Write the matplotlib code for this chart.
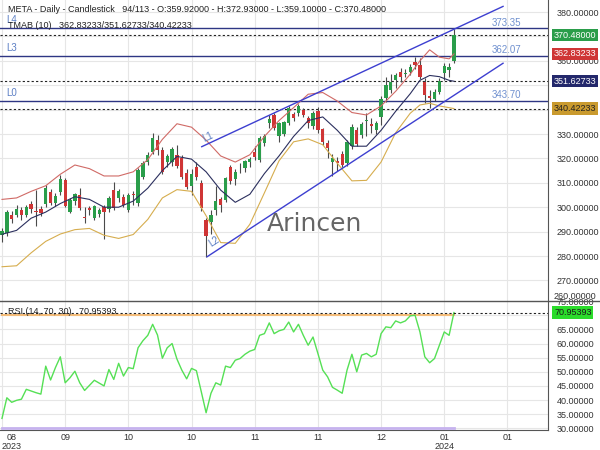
import matplotlib
matplotlib.use("Agg")
import matplotlib.pyplot as plt
from matplotlib.lines import Line2D
import numpy as np
import pandas as pd

plt.rcParams['font.family'] = ['Liberation Sans', 'DejaVu Sans']

# trading days on the chart (94 bars, the axis holds 113 slots)
holidays = ["2023-09-04", "2023-11-23", "2023-12-25", "2024-01-01"]
dates = pd.bdate_range("2023-08-28", "2024-01-10")
dates = dates[~dates.isin(pd.to_datetime(holidays))]

opens = [288.6, 289.5, 297.0, 296.8, 298.8, 296.8, 301.3, 298.4, 299.3, 301.3,
         306.1, 301.6, 306.1, 311.2, 298.2, 302.7, 305.0, 295.8, 299.5, 295.7,
         297.2, 300.2, 299.1, 307.0, 303.6, 304.0, 298.9, 305.5, 301.6, 312.5,
         318.6, 322.8, 327.5, 323.4, 318.6, 318.6, 321.4, 320.0, 314.1, 308.5,
         316.6, 309.8, 294.8, 294.0, 298.9, 303.2, 303.0, 316.5, 311.5, 315.5,
         316.0, 318.5, 322.5, 319.3, 326.2, 334.4, 337.8, 329.0, 330.0, 334.4,
         338.2, 338.7, 339.8, 336.4, 333.3, 339.5, 331.9, 326.2, 318.5, 318.8,
         321.8, 318.0, 325.0, 331.8, 329.6, 335.2, 334.0, 331.6, 337.1, 344.6,
         348.0, 352.1, 355.5, 354.6, 355.5, 359.6, 358.3, 351.4, 345.6, 344.3,
         347.3, 354.9, 356.4, 359.92]
highs = [291.5, 299.0, 298.4, 301.0, 300.0, 300.8, 302.5, 307.0, 300.5, 309.0,
         307.5, 306.0, 313.0, 311.8, 303.8, 306.0, 307.7, 300.2, 300.5, 301.0,
         299.8, 301.0, 304.5, 310.5, 307.5, 305.5, 306.0, 306.5, 316.0, 318.8,
         322.5, 330.3, 329.5, 324.5, 322.0, 324.5, 325.5, 321.5, 315.5, 315.5,
         318.5, 311.0, 295.5, 299.0, 308.7, 304.0, 312.5, 317.5, 315.5, 318.0,
         319.5, 320.5, 325.0, 329.0, 330.0, 337.7, 338.5, 334.8, 335.5, 341.5,
         339.0, 342.5, 340.5, 337.5, 339.5, 341.0, 332.5, 327.5, 322.0, 320.5,
         323.0, 327.5, 334.0, 333.0, 335.0, 338.5, 336.5, 335.5, 345.5, 353.5,
         354.5, 355.0, 357.0, 356.5, 358.5, 361.5, 361.0, 353.0, 348.0, 348.5,
         353.0, 359.0, 359.0, 372.93]
lows = [285.6, 288.0, 293.5, 295.8, 294.7, 296.0, 297.5, 292.3, 296.5, 300.0,
        301.0, 300.5, 305.0, 300.0, 297.5, 301.0, 299.0, 293.4, 297.0, 294.8,
        296.0, 286.8, 298.0, 299.0, 302.0, 300.0, 298.0, 301.0, 300.5, 311.5,
        317.5, 322.0, 321.5, 313.5, 316.5, 317.0, 316.0, 311.5, 307.5, 305.0,
        311.0, 298.5, 279.7, 289.0, 297.0, 298.0, 302.0, 309.5, 309.0, 314.0,
        314.5, 316.5, 319.5, 318.5, 325.0, 332.5, 331.5, 326.8, 329.0, 333.5,
        335.5, 337.5, 337.0, 332.5, 332.0, 330.5, 325.5, 320.0, 312.9, 315.0,
        316.5, 317.0, 324.0, 325.0, 328.5, 329.0, 330.5, 330.0, 333.7, 343.0,
        347.0, 349.0, 351.5, 353.5, 354.0, 356.5, 352.5, 342.6, 340.5, 343.5,
        346.5, 352.0, 353.5, 359.10]
closes = [290.3, 298.0, 295.1, 299.4, 296.8, 299.9, 299.1, 298.0, 297.5, 307.7,
          301.9, 304.6, 311.6, 300.5, 303.0, 305.3, 299.5, 295.6, 298.8, 300.5,
          298.8, 297.9, 303.9, 299.5, 306.7, 300.9, 305.0, 304.8, 315.2, 318.2,
          321.6, 328.2, 323.4, 314.6, 321.1, 323.7, 316.9, 312.5, 308.4, 313.8,
          312.2, 299.5, 288.3, 296.8, 302.5, 300.9, 311.8, 310.9, 314.6, 315.8,
          318.8, 319.8, 320.5, 328.3, 329.0, 336.3, 332.3, 334.4, 335.0, 340.5,
          336.4, 341.5, 337.8, 334.4, 338.5, 331.6, 326.9, 324.1, 320.0, 318.3,
          317.5, 326.6, 332.7, 326.0, 334.0, 335.7, 333.3, 334.5, 344.4, 350.2,
          351.2, 354.2, 353.5, 355.0, 357.6, 358.3, 353.5, 346.0, 344.9, 347.3,
          351.7, 357.9, 357.4, 370.48]

# TMAB (10) bands, read at these bar numbers
band_bars = [0, 3, 6, 9, 12, 15, 18, 21, 24, 27, 30, 33, 36, 39, 42, 45, 48, 51,
             54, 57, 60, 63, 66, 69, 72, 75, 78, 81, 84, 86, 88, 90, 92, 93]
band_upper = [303.2, 303.8, 306.5, 308.8, 313.5, 317.3, 315.8, 312.8, 312.8, 314.5,
              319.5, 327.8, 334.2, 332.8, 327.5, 321.0, 318.5, 321.5, 329.0, 335.5,
              340.8, 346.3, 347.0, 343.5, 338.8, 337.8, 341.5, 347.5, 354.5, 360.0,
              364.5, 361.5, 360.8, 362.83233]
band_mid = [288.9, 290.5, 295.5, 298.0, 301.5, 304.3, 303.2, 300.0, 300.0, 302.5,
            307.8, 315.0, 320.8, 319.7, 314.5, 307.0, 302.0, 305.3, 313.8, 321.0,
            329.0, 335.5, 337.0, 331.5, 325.0, 325.0, 331.5, 339.3, 346.5, 352.0,
            354.0, 353.5, 352.0, 351.62733]
band_lower = [275.6, 276.0, 281.3, 286.0, 289.0, 290.8, 291.3, 288.5, 287.2, 288.8,
              295.0, 303.8, 307.2, 306.5, 296.5, 285.5, 285.2, 293.0, 305.9, 319.0,
              326.8, 328.0, 325.6, 318.0, 310.8, 311.0, 318.5, 330.5, 338.5, 341.9,
              342.6, 341.5, 340.8, 340.42233]

rsi = [33.5, 40.8, 39.2, 39.9, 40.3, 43.8, 43.2, 42.6, 42.1, 52.0,
       47.1, 51.5, 55.3, 46.1, 47.9, 50.2, 46.1, 43.4, 45.2, 47.0,
       46.0, 45.0, 50.8, 47.3, 53.0, 48.5, 51.5, 51.1, 58.5, 61.0,
       62.9, 66.8, 63.0, 54.8, 58.5, 60.0, 54.5, 50.6, 47.5, 51.2,
       50.4, 43.0, 35.5, 42.4, 46.1, 45.3, 52.0, 51.5, 54.1, 54.7,
       56.2, 57.3, 57.9, 62.9, 63.5, 67.3, 63.5, 64.5, 65.0, 67.6,
       64.1, 66.8, 62.9, 59.4, 62.3, 56.5, 50.6, 48.2, 44.5, 43.5,
       42.4, 50.6, 56.2, 50.0, 55.9, 56.5, 55.3, 56.2, 63.5, 65.9,
       65.6, 68.0, 67.3, 68.0, 69.8, 70.0, 64.1, 55.3, 53.2, 54.7,
       59.4, 64.1, 62.9, 70.95393]

# horizontal levels and trend channel
level_names = ["L4", "L3", "L0"]
level_values = [373.35, 362.07, 343.70]
channel_top = ([41.1, 103.1], [324.8, 382.3])
channel_bottom = ([42.2, 103.1], [279.7, 359.0])

tick_bars = [0, 13, 26, 39, 52, 65, 78, 91, 104]
tick_labels = ["08\n2023", "09", "10", "10", "11", "11", "12", "01\n2024", "01"]
price_ticks = [270, 280, 290, 300, 310, 320, 330, 340, 350, 360, 370, 380]
hidden_price_labels = [340, 350, 370]   # covered by the value boxes
rsi_ticks = [30, 35, 40, 45, 50, 55, 60, 65, 70, 75]
hidden_rsi_labels = [70]

GREEN = "#2a9d4a"
RED = "#cf3535"
GRID = "#e6e6e6"
AXC = "#555555"

fig = plt.figure(figsize=(6, 4.5), dpi=100)
ax = fig.add_axes([0, 1 - 301 / 450, 548 / 600, 301 / 450])
ax2 = fig.add_axes([0, 20 / 450, 548 / 600, 129 / 450], sharex=ax)

x = np.arange(len(closes))
o = np.array(opens)
c = np.array(closes)
up = c >= o

# candles
ax.vlines(x, lows, highs, color="#4a4a4a", lw=0.8, zorder=3)
body_lo = np.minimum(o, c)
body_h = np.maximum(np.abs(c - o), 0.35)
ax.bar(x, body_h, bottom=body_lo, width=0.68,
       color=[GREEN if u else RED for u in up], edgecolor="none", zorder=4)

# bands
ax.plot(band_bars, band_upper, color="#d06a66", lw=0.8, zorder=5)
ax.plot(band_bars, band_mid, color="#2b2f5e", lw=0.8, zorder=5)
ax.plot(band_bars, band_lower, color="#d6ad4e", lw=0.8, zorder=5)

ax.set_xlim(-0.41, 112.35)
ax.set_ylim(261.56, 384.92)

# levels
for name, val in zip(level_names, level_values):
    ax.axhline(val, color="#2e3684", lw=1.0, zorder=2)
    ax.text(0.011, val + 3.3, name, transform=ax.get_yaxis_transform(),
            color="#5b7ec4", fontsize=7, va="center", ha="left")
    ax.text(100.8, val + 2.2, f"{val:.2f}", color="#6f90cf", fontsize=7,
            va="center", ha="left")

# dashed marker lines for last values
for val in [closes[-1], band_mid[-1], band_lower[-1]]:
    ax.axhline(val, color="#222222", lw=0.8, ls=(0, (2, 2)), zorder=2)

# channel lines
ax.plot(*channel_top, color="#3d3fd0", lw=1.0, zorder=5)
ax.plot(*channel_bottom, color="#3d3fd0", lw=1.0, zorder=5)


def line_angle(xs, ys):
    p = ax.transData.transform(list(zip(xs, ys)))
    return np.degrees(np.arctan2(p[1][1] - p[0][1], p[1][0] - p[0][0]))


ax.text(channel_top[0][0] + 0.3, channel_top[1][0] + 3.2, "L1",
        rotation=line_angle(*channel_top), color="#5b7ec4", fontsize=7,
        ha="left", va="center", rotation_mode="anchor", zorder=6)
ax.text(channel_bottom[0][0] + 0.6, channel_bottom[1][0] + 5.0, "L2",
        rotation=line_angle(*channel_bottom), color="#5b7ec4", fontsize=7,
        ha="left", va="center", rotation_mode="anchor", zorder=6)

# watermark
ax.text(0.573, 0.255, "Arincen", transform=ax.transAxes, fontsize=18,
        color="#666666", ha="center", va="center", zorder=7,
        family=["DejaVu Sans"])

# main axis styling
ax.set_yticks(price_ticks)
ax.set_yticklabels(["" if v in hidden_price_labels else f"{v:.5f}" for v in price_ticks])
ax.yaxis.tick_right()
ax.tick_params(axis="y", length=0, pad=6, labelsize=6.5, colors="#333333")
ax.tick_params(axis="x", length=0, labelbottom=False)
ax.set_xticks(tick_bars)
ax.grid(True, color=GRID, lw=0.8, zorder=0)
ax.set_axisbelow(True)
for s in ["top", "left", "bottom"]:
    ax.spines[s].set_visible(False)
ax.spines["right"].set_color(AXC)
ax.text(1.011, 263.2, "260.00000", transform=ax.get_yaxis_transform(),
        fontsize=6.5, color="#333333", ha="left", va="center", clip_on=False)

# value boxes on the right
boxes = [(closes[-1], GREEN, "white"), (band_upper[-1], RED, "white"),
         (band_mid[-1], "#23286b", "white"), (band_lower[-1], "#c99a2e", "#222222")]
for val, fc, tc in boxes:
    ax.text(1.011, val, f"{val:.5f}", transform=ax.get_yaxis_transform(),
            fontsize=6.5, color=tc, ha="left", va="center", clip_on=False,
            zorder=8, bbox=dict(boxstyle="square,pad=0.18", fc=fc, ec="none"))

# RSI panel
ax2.plot(x, rsi, color="#55e055", lw=1.0, zorder=4)
ax2.plot([0, len(rsi) - 1], [70, 70], color="#f5bd7a", lw=1.5, zorder=3)
ax2.plot([0, len(rsi) - 1], [30, 30], color="#c6b2ee", lw=2.0, zorder=3)
ax2.axhline(rsi[-1], color="#222222", lw=0.8, ls=(0, (2, 2)), zorder=5)
ax2.set_ylim(29.4, 75.05)
ax2.set_yticks(rsi_ticks)
ax2.set_yticklabels(["" if v in hidden_rsi_labels else f"{v:.5f}" for v in rsi_ticks])
ax2.yaxis.tick_right()
ax2.tick_params(axis="y", length=0, pad=6, labelsize=6.5, colors="#333333")
ax2.set_xticks(tick_bars)
ax2.set_xticklabels(tick_labels, linespacing=1.0)
ax2.tick_params(axis="x", length=0, pad=2, labelsize=6.5, colors="#333333")
first = ax2.get_xticklabels()[0]
first.set_horizontalalignment("left")
first.set_multialignment("center")
ax2.grid(True, color=GRID, lw=0.8, zorder=0)
ax2.set_axisbelow(True)
for s in ["top", "left"]:
    ax2.spines[s].set_visible(False)
ax2.spines["right"].set_color(AXC)
ax2.spines["bottom"].set_color(AXC)
ax2.text(1.011, rsi[-1], f"{rsi[-1]:.5f}", transform=ax2.get_yaxis_transform(),
         fontsize=6.5, color="#1a1a1a", ha="left", va="center", clip_on=False,
         zorder=8, bbox=dict(boxstyle="square,pad=0.18", fc="#2bdc2b", ec="none"))
ax2.text(0.014, 0.915, "RSI (14, 70, 30)   70.95393", transform=ax2.transAxes,
         fontsize=6.5, color="#222222", ha="left", va="center", zorder=6)

# separator between the panels
fig.add_artist(Line2D([0, 1], [1 - 301 / 450] * 2, color=AXC, lw=1.0))

# header texts
fig.text(8 / 600, 1 - 10 / 450,
         "META - Daily - Candlestick   94/113 - O:359.92000 - H:372.93000 - "
         "L:359.10000 - C:370.48000", fontsize=6.5, color="#222222", va="center")
fig.text(8 / 600, 1 - 25 / 450, "TMAB (10)   362.83233/351.62733/340.42233",
         fontsize=6.5, color="#222222", va="center")

fig.savefig("out.png", dpi=100)
